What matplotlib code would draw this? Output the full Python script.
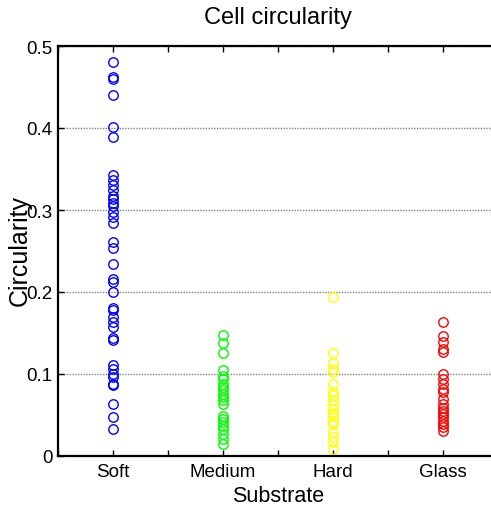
"""
Cell circularity per substrate, drawn as open-circle strip plot.
"""

import matplotlib
matplotlib.use('Agg')
import matplotlib.pyplot as plt
from matplotlib.ticker import MultipleLocator

SUBSTRATES = ['Soft', 'Medium', 'Hard', 'Glass']
COLORS = ['#0000ff', '#00ff00', '#ffff00', '#ff0000']

soft = [0.480, 0.462, 0.460, 0.440, 0.401, 0.389, 0.343, 0.337, 0.330,
        0.324, 0.317, 0.313, 0.309, 0.305, 0.297, 0.292, 0.284, 0.261,
        0.254, 0.234, 0.216, 0.212, 0.200, 0.180, 0.178, 0.169, 0.163,
        0.157, 0.144, 0.142, 0.111, 0.106, 0.100, 0.096, 0.088, 0.086,
        0.063, 0.047, 0.033]
medium = [0.147, 0.138, 0.126, 0.105, 0.098, 0.094, 0.088, 0.084, 0.080,
          0.076, 0.072, 0.068, 0.063, 0.049, 0.045, 0.041, 0.037, 0.033,
          0.027, 0.021, 0.015]
hard = [0.194, 0.126, 0.114, 0.106, 0.102, 0.088, 0.078, 0.074, 0.068,
        0.062, 0.057, 0.053, 0.049, 0.043, 0.039, 0.029, 0.023, 0.017,
        0.009]
glass = [0.163, 0.146, 0.139, 0.131, 0.127, 0.100, 0.094, 0.088, 0.082,
         0.078, 0.070, 0.063, 0.059, 0.055, 0.051, 0.047, 0.043, 0.039,
         0.035, 0.030]

Y_TICKS = [0, 0.1, 0.2, 0.3, 0.4, 0.5]
Y_TICK_LABELS = ['0', '0.1', '0.2', '0.3', '0.4', '0.5']

plt.rcParams['font.family'] = ['Liberation Sans', 'DejaVu Sans']

fig = plt.figure(figsize=(4.91, 5.10), dpi=100)
ax = fig.add_axes([58 / 491, 53 / 510, 440 / 491, 410 / 510])

for i, (vals, color) in enumerate(zip([soft, medium, hard, glass], COLORS)):
    ax.plot([i + 1] * len(vals), vals, linestyle='none', marker='o',
            markersize=6.8, markerfacecolor='none', markeredgecolor=color,
            markeredgewidth=1.0, clip_on=False)

ax.set_xlim(0.5, 4.5)
ax.set_ylim(0, 0.5)
ax.set_xticks(range(1, 5))
ax.set_xticklabels(SUBSTRATES)
ax.xaxis.set_minor_locator(MultipleLocator(0.5))
ax.set_yticks(Y_TICKS)
ax.set_yticklabels(Y_TICK_LABELS)

# dense dotted horizontal grid only
ax.yaxis.grid(True, linestyle=(0, (1, 1)), color='#808080', linewidth=1.0)
ax.set_axisbelow(True)

for side in ['left', 'bottom', 'top', 'right']:
    ax.spines[side].set_linewidth(1.6)
ax.tick_params(axis='both', which='both', direction='in', top=True,
               right=True, length=4, width=1, colors='black')
ax.tick_params(axis='x', which='major', labelsize=13.5, pad=5)
ax.tick_params(axis='y', which='major', labelsize=13.5, pad=4)

fig.text(278 / 491, 1 - 18 / 510, 'Cell circularity', ha='center',
         va='center', fontsize=17)
fig.text(278 / 491, 1 - 497 / 510, 'Substrate', ha='center',
         va='center', fontsize=15.5)
fig.text(20 / 491, 1 - 251 / 510, 'Circularity', ha='center',
         va='center', rotation=90, fontsize=18)

fig.savefig('out.png', dpi=100)
